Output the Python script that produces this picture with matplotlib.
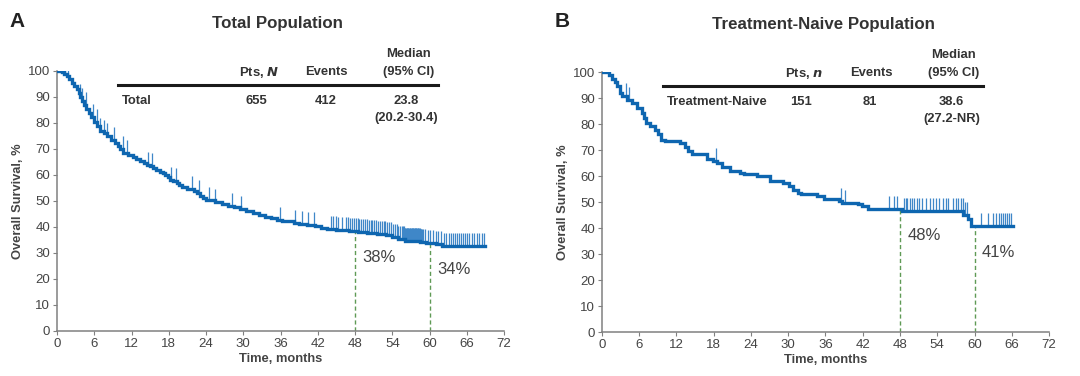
import numpy as np
import matplotlib
matplotlib.use("Agg")
import matplotlib.pyplot as plt

plt.rcParams["font.family"] = ["Liberation Sans", "DejaVu Sans"]

# Panel A - total population (step points)
a_time = [0, 0.8, 1.2, 1.6, 2.0, 2.4, 2.8, 3.2, 3.5, 3.7, 4.0, 4.3, 4.7, 5.1,
          5.5, 6.0, 6.5, 7.0, 7.5, 8.0, 8.7, 9.4, 9.8, 10.2, 10.7, 11.5,
          12.3, 12.8, 13.4, 14.0, 14.5, 15.0, 15.5, 16.0, 16.6, 17.0, 17.4,
          17.8, 18.2, 18.7, 19.3, 19.7, 20.2, 21.0, 21.5, 22.0, 22.5, 23.0,
          23.5, 24.0, 25.5, 26.5, 27.5, 28.5, 29.5, 30.5, 31.5, 32.5, 33.5,
          34.5, 35.5, 36.2, 38.2, 39.0, 40.2, 41.5, 42.5, 43.5, 45.0, 47.0,
          48.5, 50.0, 51.5, 53.0, 54.0, 55.0, 56.0, 58.5, 59.5, 61.0, 62.0,
          69.0]
a_surv = [100, 99.5, 99, 98, 97, 95.5, 94.3, 93, 91.5, 90, 88.5, 87, 85.5, 84,
          82.3, 80.5, 78.7, 77, 76, 75, 73.6, 72.2, 71.2, 70, 68.5, 67.7,
          67, 66.2, 65.5, 64.7, 64, 63.4, 62.8, 62, 61.3, 60.7, 60,
          59.1, 58.2, 57.5, 56.8, 56, 55.2, 54.8, 54.5, 53.7, 53, 52.1,
          51.2, 50.2, 49.6, 49, 48.2, 47.6, 46.8, 46.0, 45.3, 44.6, 44.0,
          43.4, 42.8, 42.3, 41.6, 41.1, 40.8, 40.3, 39.8, 39.3, 39.0, 38.6,
          38.1, 37.8, 37.4, 36.8, 36.2, 35.5, 34.8, 34.3, 33.8, 33.3, 32.6,
          32.6]
a_censor = [1.3, 1.7, 3.7, 4.1, 4.6, 5.8, 6.4, 7.0, 7.5, 8.0, 9.2, 10.6, 11.2,
            14.6, 15.3, 18.4, 19.2, 21.8, 22.9, 24.4, 25.5, 28.2, 29.7, 35.9,
            38.4, 39.4, 40.5, 41.4,
            44.2, 44.5, 44.9, 45.3, 45.9, 46.5, 46.9, 47.2, 47.5, 47.8, 48.1,
            48.4, 48.7, 49.0, 49.3, 49.6, 49.9, 50.2, 50.5, 50.8, 51.1, 51.4,
            51.7, 52.0, 52.3, 52.6, 52.9, 53.2, 53.5, 53.8, 54.1, 54.4, 54.7,
            55.0, 55.3, 55.6, 55.8, 55.9, 56.0, 56.1, 56.2, 56.3, 56.4, 56.5,
            56.6, 56.7, 56.8, 56.9, 57.0, 57.1, 57.2, 57.3, 57.4, 57.5, 57.6,
            57.7, 57.8, 57.9, 58.0, 58.1, 58.2, 58.3, 58.4, 58.5, 58.6, 58.7,
            58.8, 59.0, 59.3, 59.7,
            60.1, 60.6, 61.0, 61.4, 61.8, 62.3, 62.7, 63.2, 63.5, 63.8, 64.1,
            64.5, 64.8, 65.1, 65.4, 65.7, 66.0, 66.4, 66.8, 67.2, 67.6, 68.0,
            68.4, 68.7]

# Panel B - treatment-naive population
b_time = [0, 1.1, 1.6, 2.1, 2.4, 2.9, 3.3, 4.1, 4.8, 5.6, 6.4, 6.8, 7.1, 7.8,
          8.6, 9.1, 9.5, 10.2, 12.6, 13.4, 13.9, 14.5, 16.9, 17.8, 18.5, 19.3,
          20.6, 22.3, 22.8, 24.9, 27.1, 29.2, 30.2, 30.8, 31.5, 32.1, 34.6,
          35.7, 38.1, 38.6, 41.3, 41.8, 42.9, 48.3, 58.2, 58.9, 59.4, 66.2]
b_surv = [100, 99, 97.5, 96, 94.5, 92, 90.7, 89.3, 88, 86.2, 84.3, 82.5, 80.5,
          79.4, 77.8, 76, 74, 73.4, 72.7, 71, 69.5, 68.3, 66.5, 65.8, 65.1,
          63.5, 62, 61.3, 60.6, 60, 58.2, 57.4, 56.3, 54.8, 53.6, 53, 52.2,
          51, 50.3, 49.6, 49.2, 48.3, 47.4, 46.5, 45.0, 43.6, 40.6, 40.6]
b_censor = [3.8, 4.3, 18.3, 38.5, 39.1,
            46.2, 47.0, 47.5, 48.6, 48.9, 49.2, 49.6, 50.0, 50.3, 50.7, 51.1,
            51.5, 52.2, 52.8, 53.3, 53.8, 54.3, 55.0, 55.4, 55.8, 56.5, 57.0,
            57.4, 57.8, 58.1, 58.5, 58.8, 61.0, 62.1, 62.9, 63.5, 63.9, 64.3,
            64.6, 64.9, 65.2, 65.6, 65.9]

landmarks_a = [(48, 38.3, "38%"), (60, 33.5, "34%")]
landmarks_b = [(48, 47.2, "48%"), (60, 40.6, "41%")]

table_a = ["Total", "655", "412", "23.8", "(20.2-30.4)"]
table_b = ["Treatment-Naive", "151", "81", "38.6", "(27.2-NR)"]

BLUE = "#0e66b0"
TICKBLUE = "#3f87c8"
GREEN = "#5f9a55"
GREY = "#444444"


def surv_at(times, surv, t):
    i = np.searchsorted(times, t, side="right") - 1
    return np.asarray(surv)[i]


def draw_panel(ax, times, surv, censor, landmarks, row, n_label):
    ax.step(times, surv, where="post", color=BLUE, lw=2.4, zorder=3,
            solid_joinstyle="miter")
    base = surv_at(times, surv, censor)
    ax.vlines(censor, base, base + 5, color=TICKBLUE, lw=0.9, zorder=2)

    for t, s, lab in landmarks:
        ax.plot([t, t], [0, s], ls=(0, (3, 2)), color=GREEN, lw=1.0, zorder=1)
        ax.text(t + 1.2, s - 10, lab, fontsize=12, color=GREY, va="center")

    ax.set_xlim(0, 72)
    ax.set_ylim(0, 100)
    ax.set_xticks(range(0, 73, 6))
    ax.set_yticks(range(0, 101, 10))
    for side in ["top", "right"]:
        ax.spines[side].set_visible(False)
    for side in ["left", "bottom"]:
        ax.spines[side].set_color("#808080")
        ax.spines[side].set_linewidth(1.1)
    ax.tick_params(direction="out", length=3, color="#808080",
                   labelsize=9.5, labelcolor=GREY, pad=2)
    ax.set_xlabel("Time, months", fontsize=9.3, fontweight="bold",
                  color=GREY, labelpad=2)
    ax.set_ylabel("Overall Survival, %", fontsize=9.3, fontweight="bold",
                  color=GREY, labelpad=3)

    # small table
    ax.plot([9.9, 61.4], [94.8, 94.8], color="#1a1a1a", lw=2.2, clip_on=False)
    kw = dict(fontsize=9.4, fontweight="bold", color="#333333",
              ha="center", va="center")
    ax.text(32.5, 99.6, "Pts, $\\mathbfit{" + n_label + "}$", **kw)
    ax.text(43.4, 99.6, "Events", **kw)
    ax.text(56.6, 106.4, "Median", **kw)
    ax.text(56.6, 99.7, "(95% CI)", **kw)
    ax.text(10.4, 88.4, row[0], fontsize=9.4, fontweight="bold",
            color="#333333", ha="left", va="center")
    ax.text(32.1, 88.4, row[1], **kw)
    ax.text(43.2, 88.4, row[2], **kw)
    ax.text(56.3, 88.4, row[3], **kw)
    ax.text(56.3, 81.8, row[4], **kw)


fig = plt.figure(figsize=(10.8, 3.76), dpi=100)
ax_a = fig.add_axes([0.0528, 0.1197, 0.4139, 0.6915])
ax_b = fig.add_axes([0.5574, 0.1170, 0.4139, 0.6915])

draw_panel(ax_a, a_time, a_surv, a_censor, landmarks_a, table_a, "N")
draw_panel(ax_b, b_time, b_surv, b_censor, landmarks_b, table_b, "n")

fig.text(0.009, 0.944, "A", fontsize=15, fontweight="bold", color="#222222",
         ha="left", va="center")
fig.text(0.257, 0.938, "Total Population", fontsize=12.2, fontweight="bold",
         color="#333333", ha="center", va="center")
fig.text(0.514, 0.942, "B", fontsize=15, fontweight="bold", color="#222222",
         ha="left", va="center")
fig.text(0.762, 0.934, "Treatment-Naive Population", fontsize=12.2,
         fontweight="bold", color="#333333", ha="center", va="center")

fig.savefig("out.png", dpi=100, facecolor="white")
